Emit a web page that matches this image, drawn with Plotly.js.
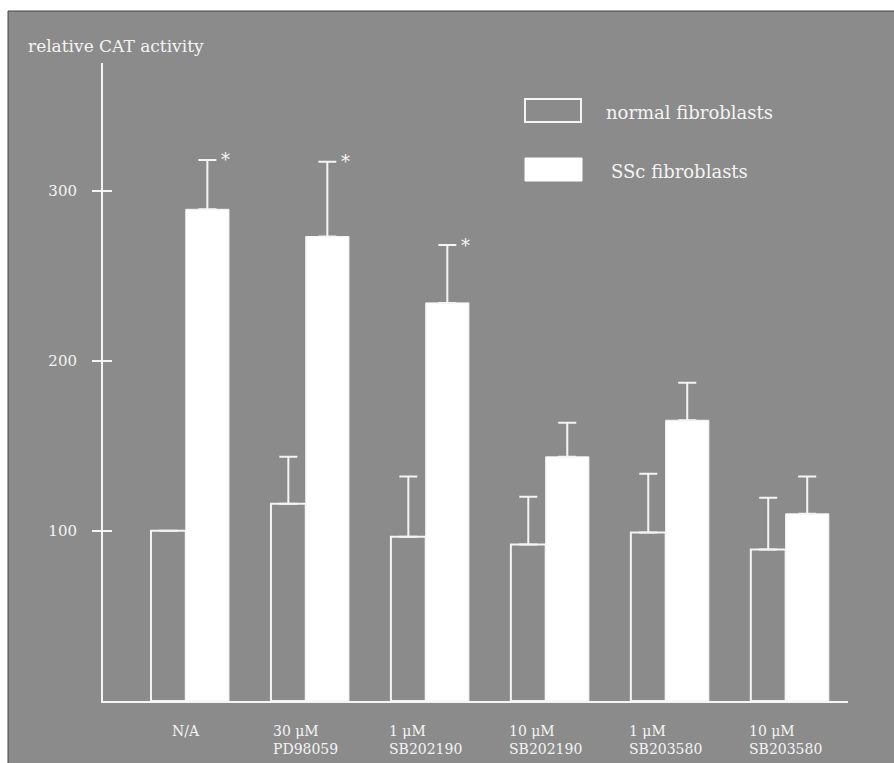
<!DOCTYPE html>
<html>
<head>
<meta charset="utf-8">
<script src="https://cdn.plot.ly/plotly-3.0.1.min.js"></script>
<style>html,body{margin:0;padding:0;background:#fff;}#chart{width:894px;height:763px;}</style>
</head>
<body>
<div id="chart"></div>
<script>
// ---- data ----
const categories = ["N/A", "30 μM<br>PD98059", "1 μM<br>SB202190", "10 μM<br>SB202190", "1 μM<br>SB203580", "10 μM<br>SB203580"];
const normalValues = [100, 116, 96.5, 92, 99, 89];
const normalErrors = [null, 27.5, 35.5, 28, 34.5, 30.5];
const sscValues = [289, 273, 234, 143.5, 165, 110];
const sscErrors = [29, 44, 34, 20, 22, 22];
const significant = [true, true, true, false, false, false];
const yTicks = [100, 200, 300];
const seriesNames = ["normal fibroblasts", "SSc fibroblasts"];
const yLabel = "relative CAT activity";

// ---- styles ----
const BG = "#8b8b8b";
const FG = "#f4f4f4";
const FONT = "DejaVu Serif";
const idx = categories.map((c, i) => i);
const zeros = categories.map(() => 0);

const traces = [
  {
    type: "bar", name: seriesNames[0], x: idx, y: normalValues,
    width: 0.29, offset: -0.29,
    marker: {color: "rgba(0,0,0,0)", line: {color: FG, width: 2}},
    error_y: {type: "data", symmetric: false, array: normalErrors, arrayminus: zeros, visible: true, color: FG, thickness: 2, width: 9},
    showlegend: false, hoverinfo: "skip"
  },
  {
    type: "bar", name: seriesNames[1], x: idx, y: sscValues,
    width: 0.36, offset: 0,
    marker: {color: "#ffffff", line: {color: FG, width: 1}},
    error_y: {type: "data", symmetric: false, array: sscErrors, arrayminus: zeros, visible: true, color: FG, thickness: 2, width: 9},
    showlegend: false, hoverinfo: "skip"
  },
  {type: "scatter", x: [0], y: [0], yaxis: "y2", mode: "markers", marker: {opacity: 0}, showlegend: false, hoverinfo: "skip"}
];

const L = 103, R = 46, T = 63, B = 62, W = 894, H = 763;
const pw = W - L - R, ph = H - T - B;
const px = v => (v - L) / pw;
const py = v => (H - B - v) / ph;

const annotations = [];
categories.forEach((c, i) => {
  annotations.push({
    x: i, y: 0, xref: "x", yref: "y", yanchor: "top", xanchor: "center",
    yshift: -20, align: "left", showarrow: false, text: c,
    font: {family: FONT, size: 14, color: FG}
  });
});
significant.forEach((s, i) => {
  if (!s) return;
  annotations.push({
    x: i, y: sscValues[i] + sscErrors[i], xref: "x", yref: "y",
    xshift: 40, yshift: 0, showarrow: false, text: "*",
    font: {family: FONT, size: 18, color: FG}
  });
});
annotations.push({
  x: px(26), y: py(46), xref: "paper", yref: "paper", showarrow: false, text: yLabel,
  font: {family: FONT, size: 17, color: FG}, xanchor: "left", yanchor: "middle"
});
annotations.push({x: px(604), y: py(112), xref: "paper", yref: "paper", showarrow: false, text: seriesNames[0],
  font: {family: FONT, size: 18, color: FG}, xanchor: "left", yanchor: "middle"});
annotations.push({x: px(609), y: py(172), xref: "paper", yref: "paper", showarrow: false, text: seriesNames[1],
  font: {family: FONT, size: 18, color: FG}, xanchor: "left", yanchor: "middle"});

const shapes = [
  {type: "rect", xref: "paper", yref: "paper", x0: px(-5), x1: px(W + 5), y0: py(11), y1: py(-5), fillcolor: "#ffffff", line: {width: 0}, layer: "below"},
  {type: "rect", xref: "paper", yref: "paper", x0: px(-5), x1: px(8), y0: py(H + 5), y1: py(-5), fillcolor: "#ffffff", line: {width: 0}, layer: "below"},
  {type: "line", xref: "paper", yref: "paper", x0: px(8), x1: px(W + 5), y0: py(11), y1: py(11), line: {color: "#444", width: 1}},
  {type: "line", xref: "paper", yref: "paper", x0: px(8), x1: px(8), y0: py(11), y1: py(H + 5), line: {color: "#444", width: 1}},
  {type: "rect", xref: "paper", yref: "paper", x0: px(525), x1: px(581), y0: py(122), y1: py(99), fillcolor: "rgba(0,0,0,0)", line: {color: FG, width: 2}},
  {type: "rect", xref: "paper", yref: "paper", x0: px(525), x1: px(582), y0: py(181), y1: py(158), fillcolor: "#ffffff", line: {color: "#ffffff", width: 1}}
];

const layout = {
  width: W, height: H,
  margin: {l: L, r: R, t: T, b: B, pad: 0},
  paper_bgcolor: BG, plot_bgcolor: BG,
  barmode: "overlay",
  showlegend: false,
  xaxis: {
    type: "linear", range: [-0.69, 5.52], showgrid: false, zeroline: false,
    showline: true, linecolor: FG, linewidth: 2, ticks: "", showticklabels: false
  },
  yaxis: {
    range: [0, 375], showgrid: false, zeroline: false,
    showline: true, linecolor: FG, linewidth: 2,
    tickvals: yTicks, ticktext: yTicks.map(String), ticks: "outside", ticklen: 9, tickwidth: 2, tickcolor: FG,
    ticklabelstandoff: 12,
    tickfont: {family: FONT, size: 15, color: FG}
  },
  yaxis2: {
    overlaying: "y", range: [0, 375], showgrid: false, zeroline: false, showline: false,
    tickvals: yTicks, ticks: "inside", ticklen: 9, tickwidth: 2, tickcolor: FG, showticklabels: false
  },
  annotations: annotations,
  shapes: shapes
};

Plotly.newPlot("chart", traces, layout, {displayModeBar: false, staticPlot: true});
</script>
</body>
</html>
